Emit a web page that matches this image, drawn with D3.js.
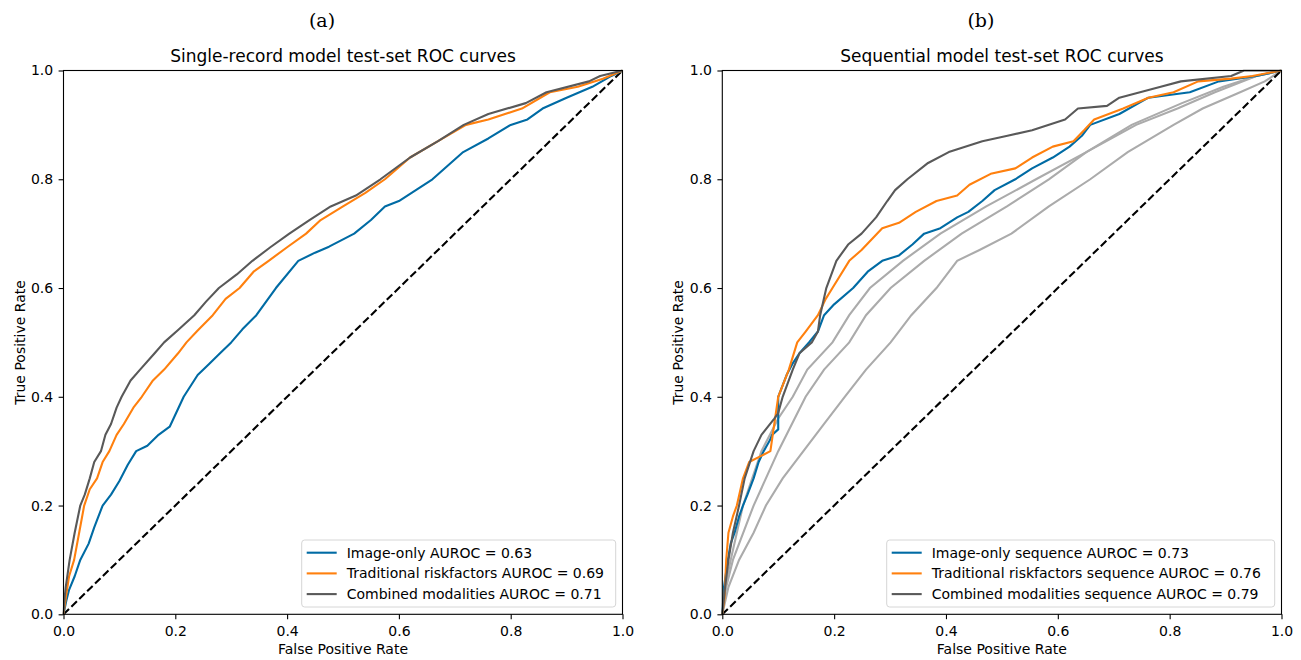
<!DOCTYPE html>
<html>
<head>
<meta charset="utf-8">
<script src="https://cdn.jsdelivr.net/npm/d3@7"></script>
<style>
  body { margin: 0; background: #fff; }
  svg { font-family: "DejaVu Sans", sans-serif; }
</style>
</head>
<body>
<div id="chart"></div>
<script>
// ---- data ----
var tickValues = [0.0, 0.2, 0.4, 0.6, 0.8, 1.0];

var panelLetters = ["(a)", "(b)"];
var panelTitles = ["Single-record model test-set ROC curves", "Sequential model test-set ROC curves"];

var legendLeft = ["Image-only AUROC = 0.63", "Traditional riskfactors AUROC = 0.69", "Combined modalities AUROC = 0.71"];
var legendRight = ["Image-only sequence AUROC = 0.73", "Traditional riskfactors sequence AUROC = 0.76", "Combined modalities sequence AUROC = 0.79"];

// left panel: [fpr, tpr]
var singleImage = [[0,0],[0.005,0.025],[0.01,0.045],[0.02,0.07],[0.03,0.10],[0.045,0.13],[0.055,0.16],[0.07,0.20],[0.085,0.22],[0.1,0.245],[0.115,0.275],[0.13,0.30],[0.15,0.31],[0.17,0.33],[0.19,0.345],[0.215,0.40],[0.24,0.44],[0.26,0.46],[0.28,0.48],[0.30,0.50],[0.32,0.524],[0.345,0.55],[0.38,0.60],[0.42,0.65],[0.45,0.665],[0.475,0.676],[0.52,0.70],[0.55,0.725],[0.575,0.75],[0.60,0.76],[0.66,0.80],[0.715,0.85],[0.76,0.875],[0.80,0.90],[0.83,0.91],[0.857,0.93],[0.90,0.95],[0.946,0.97],[0.98,0.99],[1,1]];
var singleRisk = [[0,0],[0.004,0.03],[0.01,0.07],[0.019,0.10],[0.028,0.15],[0.037,0.20],[0.047,0.23],[0.06,0.25],[0.07,0.28],[0.082,0.30],[0.095,0.33],[0.108,0.35],[0.125,0.38],[0.14,0.40],[0.16,0.43],[0.18,0.45],[0.205,0.48],[0.22,0.50],[0.24,0.522],[0.267,0.55],[0.29,0.58],[0.315,0.60],[0.34,0.63],[0.367,0.65],[0.40,0.675],[0.434,0.70],[0.46,0.725],[0.50,0.75],[0.54,0.775],[0.575,0.80],[0.62,0.84],[0.67,0.87],[0.72,0.90],[0.76,0.91],[0.82,0.93],[0.87,0.96],[0.92,0.97],[0.965,0.985],[1,1]];
var singleCombined = [[0,0],[0.002,0.03],[0.004,0.05],[0.011,0.10],[0.02,0.15],[0.03,0.20],[0.038,0.22],[0.047,0.25],[0.055,0.28],[0.067,0.30],[0.075,0.33],[0.085,0.35],[0.095,0.38],[0.104,0.40],[0.12,0.43],[0.137,0.45],[0.163,0.48],[0.18,0.50],[0.204,0.522],[0.234,0.55],[0.255,0.575],[0.278,0.60],[0.31,0.625],[0.338,0.65],[0.37,0.675],[0.404,0.70],[0.44,0.725],[0.478,0.75],[0.523,0.77],[0.567,0.80],[0.62,0.84],[0.67,0.87],[0.716,0.90],[0.76,0.92],[0.827,0.94],[0.864,0.96],[0.94,0.98],[0.96,0.99],[1,1]];

// right panel: [fpr, tpr]
var seqImage = [[0,0],[0.003,0.05],[0.01,0.10],[0.015,0.13],[0.022,0.15],[0.03,0.18],[0.037,0.20],[0.045,0.22],[0.056,0.25],[0.065,0.28],[0.074,0.30],[0.085,0.32],[0.089,0.33],[0.1,0.34],[0.1,0.40],[0.115,0.44],[0.125,0.46],[0.138,0.48],[0.155,0.50],[0.171,0.52],[0.182,0.55],[0.2,0.57],[0.234,0.60],[0.26,0.63],[0.286,0.65],[0.316,0.66],[0.34,0.68],[0.361,0.70],[0.39,0.71],[0.42,0.73],[0.44,0.74],[0.465,0.76],[0.487,0.78],[0.524,0.80],[0.554,0.82],[0.591,0.84],[0.621,0.86],[0.643,0.88],[0.658,0.90],[0.71,0.92],[0.762,0.95],[0.836,0.96],[0.888,0.98],[0.955,0.99],[1,1]];
var seqRisk = [[0,0],[0.004,0.03],[0.007,0.10],[0.011,0.15],[0.019,0.18],[0.026,0.20],[0.037,0.25],[0.048,0.28],[0.067,0.29],[0.086,0.30],[0.093,0.35],[0.1,0.40],[0.119,0.45],[0.134,0.50],[0.149,0.52],[0.171,0.55],[0.185,0.58],[0.197,0.60],[0.227,0.65],[0.249,0.67],[0.286,0.71],[0.316,0.72],[0.346,0.74],[0.383,0.76],[0.42,0.77],[0.442,0.79],[0.48,0.81],[0.524,0.82],[0.554,0.84],[0.591,0.86],[0.628,0.87],[0.647,0.89],[0.665,0.91],[0.717,0.93],[0.762,0.95],[0.807,0.96],[0.851,0.98],[0.91,0.985],[0.948,0.99],[1,1]];
var seqCombined = [[0,0],[0.005,0.05],[0.011,0.10],[0.019,0.15],[0.03,0.20],[0.04,0.25],[0.056,0.30],[0.07,0.33],[0.093,0.36],[0.1,0.37],[0.108,0.40],[0.126,0.45],[0.138,0.48],[0.16,0.50],[0.171,0.52],[0.175,0.55],[0.186,0.60],[0.204,0.65],[0.225,0.68],[0.249,0.70],[0.275,0.73],[0.295,0.76],[0.309,0.78],[0.331,0.80],[0.368,0.83],[0.405,0.85],[0.465,0.87],[0.51,0.88],[0.554,0.89],[0.613,0.91],[0.636,0.93],[0.688,0.935],[0.71,0.95],[0.784,0.97],[0.82,0.98],[0.91,0.99],[0.933,1.0],[1,1]];
var seqExtraA = [[0,0],[0.005,0.05],[0.015,0.10],[0.037,0.20],[0.07,0.30],[0.1,0.36],[0.126,0.40],[0.152,0.45],[0.197,0.50],[0.227,0.55],[0.264,0.60],[0.323,0.65],[0.39,0.70],[0.472,0.75],[0.561,0.80],[0.651,0.85],[0.732,0.90],[0.822,0.94],[0.896,0.97],[0.955,0.99],[1,1]];
var seqExtraB = [[0,0],[0.007,0.05],[0.019,0.10],[0.056,0.20],[0.1,0.30],[0.149,0.40],[0.182,0.45],[0.227,0.50],[0.257,0.55],[0.301,0.60],[0.361,0.65],[0.428,0.70],[0.509,0.75],[0.584,0.80],[0.651,0.85],[0.74,0.90],[0.814,0.93],[0.881,0.96],[0.955,0.99],[1,1]];
var seqExtraC = [[0,0],[0.011,0.05],[0.03,0.10],[0.056,0.15],[0.078,0.20],[0.108,0.25],[0.145,0.30],[0.182,0.35],[0.219,0.40],[0.257,0.45],[0.301,0.50],[0.338,0.55],[0.383,0.60],[0.42,0.65],[0.46,0.67],[0.517,0.70],[0.584,0.75],[0.658,0.80],[0.725,0.85],[0.807,0.90],[0.859,0.93],[0.926,0.96],[0.97,0.98],[1,1]];

var colors = ["#006BA4", "#FF800E", "#595959"];
var lightGray = "#ABABAB";

// ---- layout ----
var W = 1301, H = 660;
var panels = [
  { x0: 63.5, x1: 622.5, letter: panelLetters[0], title: panelTitles[0], legend: legendLeft, legendW: 314,
    curves: [singleImage, singleRisk, singleCombined], extras: [] },
  { x0: 722.3, x1: 1281.5, letter: panelLetters[1], title: panelTitles[1], legend: legendRight, legendW: 388,
    curves: [seqImage, seqRisk, seqCombined], extras: [seqExtraA, seqExtraB, seqExtraC] }
];
var yTop = 70.5, yBot = 614.3;

var svg = d3.select("#chart").append("svg")
  .attr("width", W)
  .attr("height", H);

panels.forEach(function(p, i) {
  var x = d3.scaleLinear().domain([0, 1]).range([p.x0, p.x1]);
  var y = d3.scaleLinear().domain([0, 1]).range([yBot, yTop]);

  var g = svg.append("g");

  g.append("clipPath").attr("id", "clip" + i)
    .append("rect")
      .attr("x", p.x0 - 1).attr("y", yTop - 1)
      .attr("width", p.x1 - p.x0 + 2).attr("height", yBot - yTop + 2);

  var line = d3.line()
    .x(function(d) { return x(d[0]); })
    .y(function(d) { return y(d[1]); });

  var plot = g.append("g").attr("clip-path", "url(#clip" + i + ")");

  // grey runs without a legend entry
  plot.selectAll(".extra")
    .data(p.extras)
    .enter()
    .append("path")
      .attr("d", line)
      .attr("fill", "none")
      .attr("stroke", lightGray)
      .attr("stroke-width", 2.1);

  // chance diagonal
  plot.append("path")
    .attr("d", line([[0, 0], [1, 1]]))
    .attr("fill", "none")
    .attr("stroke", "#000")
    .attr("stroke-width", 2.1)
    .attr("stroke-dasharray", "7.7,3.3");

  plot.selectAll(".roc")
    .data(p.curves)
    .enter()
    .append("path")
      .attr("d", line)
      .attr("fill", "none")
      .attr("stroke", function(d, j) { return colors[j]; })
      .attr("stroke-width", 2.1)
      .attr("stroke-linejoin", "round");

  // axes
  var xAxis = d3.axisBottom(x).tickValues(tickValues).tickFormat(d3.format(".1f")).tickSizeOuter(0).tickSize(4.9).tickPadding(7);
  var yAxis = d3.axisLeft(y).tickValues(tickValues).tickFormat(d3.format(".1f")).tickSizeOuter(0).tickSize(4.9).tickPadding(5.4);

  g.append("g").attr("transform", "translate(0," + yBot + ")").call(xAxis);
  g.append("g").attr("transform", "translate(" + p.x0 + ",0)").call(yAxis);
  g.selectAll(".tick text").attr("font-size", 14).attr("font-family", "DejaVu Sans").attr("fill", "#000");
  g.selectAll(".domain").remove();
  g.selectAll(".tick line").attr("stroke", "#000").attr("stroke-width", 1.1);

  // frame
  g.append("rect")
    .attr("x", p.x0).attr("y", yTop)
    .attr("width", p.x1 - p.x0).attr("height", yBot - yTop)
    .attr("fill", "none").attr("stroke", "#000").attr("stroke-width", 1.1);

  var cx = (p.x0 + p.x1) / 2;

  g.append("text")
    .attr("x", cx).attr("y", 654)
    .attr("text-anchor", "middle")
    .attr("font-size", 14)
    .text("False Positive Rate");

  g.append("text")
    .attr("transform", "translate(" + (p.x0 - 39) + "," + ((yTop + yBot) / 2) + ") rotate(-90)")
    .attr("text-anchor", "middle")
    .attr("font-size", 14)
    .text("True Positive Rate");

  g.append("text")
    .attr("x", cx).attr("y", 62)
    .attr("text-anchor", "middle")
    .attr("font-size", 17)
    .text(p.title);

  g.append("text")
    .attr("x", cx - 21).attr("y", 27)
    .attr("text-anchor", "middle")
    .attr("font-family", "'DejaVu Serif', 'Liberation Serif', serif")
    .attr("font-size", 19)
    .text(p.letter);

  // legend
  var lx = p.x1 - 6.8 - p.legendW, ly = 540;
  var leg = g.append("g").attr("transform", "translate(" + lx + "," + ly + ")");
  leg.append("rect")
    .attr("width", p.legendW).attr("height", 67)
    .attr("rx", 3)
    .attr("fill", "#fff").attr("fill-opacity", 0.8)
    .attr("stroke", "#d6d6d6");
  p.legend.forEach(function(label, j) {
    var ry = 12.7 + j * 20.7;
    leg.append("line")
      .attr("x1", 5).attr("x2", 35)
      .attr("y1", ry).attr("y2", ry)
      .attr("stroke", colors[j]).attr("stroke-width", 2.1);
    leg.append("text")
      .attr("x", 45).attr("y", ry + 5)
      .attr("font-size", 14)
      .text(label);
  });
});
</script>
</body>
</html>
